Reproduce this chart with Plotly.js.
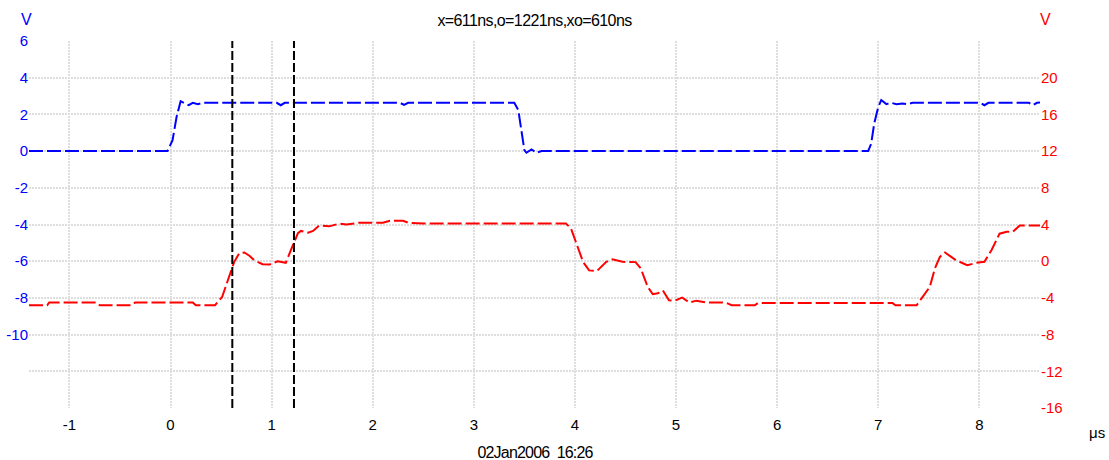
<!DOCTYPE html>
<html>
<head>
<meta charset="utf-8">
<script src="https://cdn.plot.ly/plotly-3.0.1.min.js"></script>
<style>
html,body{margin:0;padding:0;background:#fff;}
#chart{width:1109px;height:460px;}
#chart .gtitle{letter-spacing:-0.6px;}
</style>
</head>
<body>
<div id="chart"></div>
<script>
// Channel 1 (blue, left axis, V) vs time in microseconds
const blueTime = [-1.4, -0.03, 0.02, 0.06, 0.10, 0.14, 0.18, 0.22, 0.27, 0.32, 1.05, 1.09, 1.13, 2.27, 2.31, 2.35, 3.40, 3.44, 3.47, 3.50, 3.52, 3.57, 3.62, 3.67, 6.90, 6.93, 6.96, 7.00, 7.03, 7.08, 7.13, 7.18, 7.24, 7.29, 7.34, 8.01, 8.05, 8.09, 8.49, 8.53, 8.57, 8.6];
const blueVolts = [0, 0, 0.6, 1.87, 2.72, 2.63, 2.5, 2.63, 2.55, 2.63, 2.63, 2.5, 2.63, 2.63, 2.52, 2.63, 2.63, 2.23, 1.14, 0.05, -0.09, 0.09, -0.09, 0, 0, 0.4, 1.5, 2.4, 2.78, 2.56, 2.63, 2.55, 2.6, 2.56, 2.63, 2.63, 2.5, 2.63, 2.63, 2.5, 2.63, 2.65];

// Channel 2 (red, right axis, V)
const redTime = [-1.4, -1.22, -1.2, -0.73, -0.70, -0.38, -0.35, 0.22, 0.25, 0.44, 0.51, 0.58, 0.63, 0.68, 0.73, 0.78, 0.83, 0.91, 0.98, 1.06, 1.10, 1.14, 1.19, 1.26, 1.29, 1.36, 1.41, 1.47, 1.57, 1.67, 1.74, 1.87, 2.10, 2.17, 2.30, 2.35, 2.50, 3.91, 3.96, 4.03, 4.08, 4.14, 4.22, 4.31, 4.37, 4.47, 4.60, 4.65, 4.72, 4.77, 4.82, 4.87, 4.93, 4.99, 5.06, 5.13, 5.20, 5.30, 5.46, 5.51, 5.55, 5.78, 5.81, 7.14, 7.17, 7.38, 7.44, 7.51, 7.56, 7.61, 7.66, 7.77, 7.88, 7.97, 8.05, 8.12, 8.20, 8.27, 8.33, 8.40, 8.6];
const redVolts = [-4.8, -4.8, -4.5, -4.5, -4.8, -4.8, -4.5, -4.5, -4.8, -4.8, -3.9, -1.7, -0.07, 0.87, 0.95, 0.6, 0.1, -0.33, -0.36, 0, -0.1, -0.18, 1.2, 3.05, 3.3, 3.1, 3.3, 3.9, 3.8, 4.1, 4.0, 4.2, 4.2, 4.4, 4.4, 4.2, 4.1, 4.1, 3.6, 1.56, -0.07, -1.0, -1.05, -0.07, 0.2, -0.07, -0.1, -0.76, -2.8, -3.6, -3.5, -3.2, -4.25, -4.3, -3.96, -4.5, -4.3, -4.5, -4.5, -4.6, -4.8, -4.8, -4.55, -4.55, -4.8, -4.8, -3.9, -2.8, -0.8, 0.47, 0.95, 0.1, -0.44, -0.18, -0.07, 1.2, 3.0, 3.2, 3.2, 3.9, 3.9];

// Cursor positions (microseconds)
const cursors = [0.611, 1.221];

// Tick labels
const xTicks = [-1, 0, 1, 2, 3, 4, 5, 6, 7, 8];
const leftTicks = [-10, -8, -6, -4, -2, 0, 2, 4, 6];
const rightTicks = [-16, -12, -8, -4, 0, 4, 8, 12, 16, 20, 24];
const rightTickText = ['-16', '-12', '-8', '-4', '0', '4', '8', '12', '16', '20', ''];

const titleText = 'x=611ns,o=1221ns,xo=610ns';
const dateText = '02Jan2006  16:26';

const FONT = 'Liberation Sans, Arial, sans-serif';
const gridStyle = {showgrid: true, gridcolor: '#dedede', griddash: '2px,1px', gridwidth: 2};

const traces = [
  {x: blueTime, y: blueVolts, type: 'scatter', mode: 'lines', yaxis: 'y',
   line: {color: '#0000ff', width: 2, dash: '14px,4px'}, hoverinfo: 'skip'},
  {x: redTime, y: redVolts, type: 'scatter', mode: 'lines', yaxis: 'y2',
   line: {color: '#ff0000', width: 2, dash: '14px,4px'}, hoverinfo: 'skip'}
];

const shapes = cursors.map(c => ({
  type: 'line', xref: 'x', yref: 'paper', x0: c, x1: c, y0: 0, y1: 1,
  line: {color: '#000000', width: 2, dash: '9px,3px'}
}));

const layout = {
  width: 1109, height: 460,
  margin: {l: 29, r: 69, t: 41, b: 52, pad: 0},
  paper_bgcolor: '#ffffff', plot_bgcolor: '#ffffff',
  showlegend: false,
  font: {family: FONT, size: 15, color: '#000'},
  title: {text: titleText, x: 0.5, xref: 'paper', y: 1 - 20 / 460, yref: 'container', yanchor: 'middle',
          font: {family: FONT, size: 16, color: '#000'}},
  xaxis: Object.assign({range: [-1.4, 8.6], tickmode: 'array', tickvals: xTicks, ticktext: xTicks.map(String),
          zeroline: false, showline: false, ticks: '', ticklabelstandoff: 6,
          tickfont: {family: FONT, size: 15, color: '#000'}}, gridStyle),
  yaxis: {range: [-14, 6], tickmode: 'array', tickvals: leftTicks, ticktext: leftTicks.map(String),
          showgrid: false, zeroline: false, showline: false, ticks: '',
          tickfont: {family: FONT, size: 15, color: '#0000ff'}},
  yaxis2: Object.assign({range: [-16, 24], overlaying: 'y', side: 'right', tickmode: 'array', tickvals: rightTicks,
          ticktext: rightTickText, zeroline: false, showline: false, ticks: '',
          tickfont: {family: FONT, size: 15, color: '#ff0000'}}, gridStyle),
  shapes: shapes,
  annotations: [
    {text: 'V', xref: 'paper', yref: 'paper', x: (26 - 29) / 1011, y: (408 - 19) / 367, xanchor: 'center', yanchor: 'middle',
     showarrow: false, font: {family: FONT, size: 16, color: '#0000ff'}},
    {text: 'V', xref: 'paper', yref: 'paper', x: (1045 - 29) / 1011, y: (408 - 19) / 367, xanchor: 'center', yanchor: 'middle',
     showarrow: false, font: {family: FONT, size: 16, color: '#ff0000'}},
    {text: 'μs', xref: 'paper', yref: 'paper', x: (1097 - 29) / 1011, y: (408 - 432) / 367, xanchor: 'center', yanchor: 'middle',
     showarrow: false, font: {family: FONT, size: 15, color: '#000'}},
    {text: dateText, xref: 'paper', yref: 'paper', x: 0.5, y: (408 - 452) / 367, xanchor: 'center', yanchor: 'middle',
     showarrow: false, font: {family: FONT, size: 16, color: '#000'}}
  ]
};

Plotly.newPlot('chart', traces, layout, {staticPlot: true, displayModeBar: false}).then(() => {
  const anns = document.querySelectorAll('#chart .annotation-text');
  anns.forEach(a => { if (a.textContent === dateText) a.style.letterSpacing = '-0.8px'; });
});
</script>
</body>
</html>
